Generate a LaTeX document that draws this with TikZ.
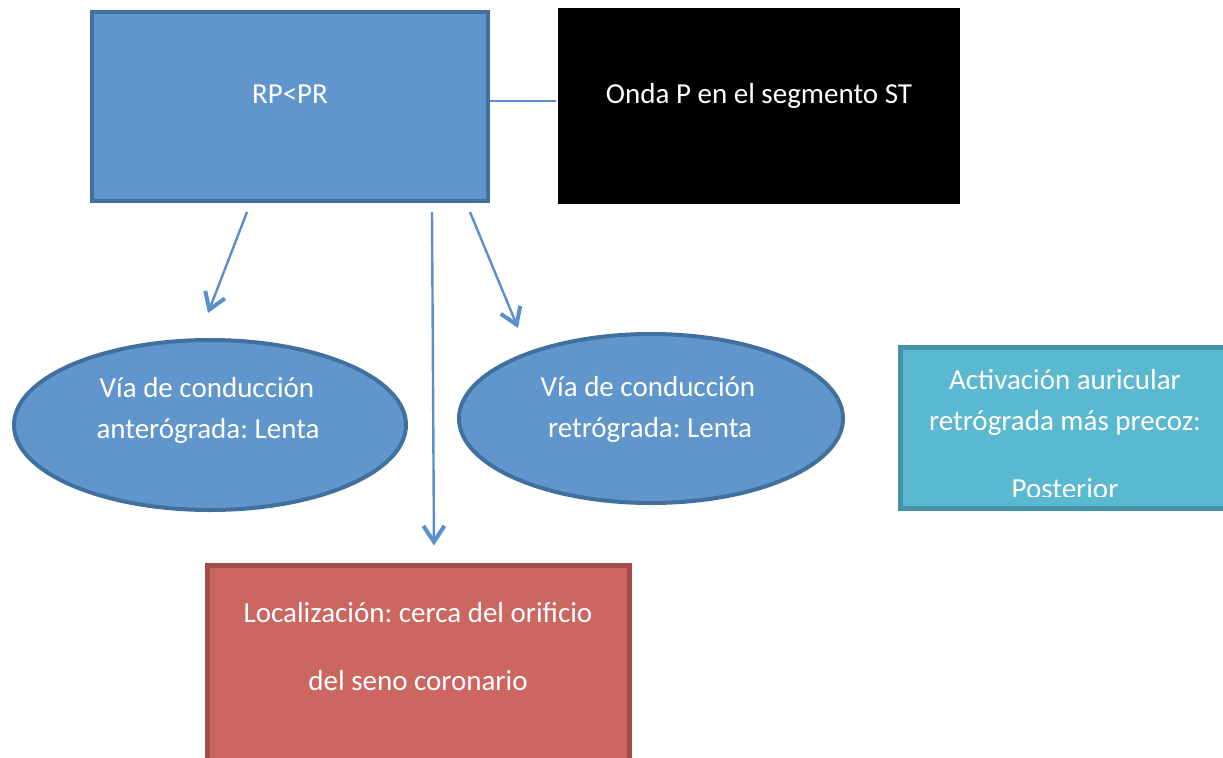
\documentclass[tikz,border=0pt]{standalone}
\usepackage{fontspec}
\setmainfont{Carlito}
\usetikzlibrary{arrows.meta,calc,shapes.geometric}
\definecolor{bluefill}{HTML}{6096CB}
\definecolor{blueline}{HTML}{41709F}
\definecolor{arrowc}{HTML}{5A8FCB}
\definecolor{cyanfill}{HTML}{5BB8D1}
\definecolor{cyanline}{HTML}{4693A8}
\definecolor{redfill}{HTML}{CC6660}
\definecolor{redline}{HTML}{A24D49}
\frenchspacing
\tikzset{
  box/.style={rectangle, inner sep=0pt, line width=2pt},
  bluebox/.style={box, fill=bluefill, draw=blueline},
  oval/.style={ellipse, inner sep=0pt, line width=2pt, fill=bluefill, draw=blueline},
  txt/.style={text=white, anchor=base, inner sep=0pt, font=\fontsize{14.5}{17}\selectfont},
  arr/.style={draw=arrowc, line width=1.2pt, -{Straight Barb[length=8pt,width=10.5pt,line width=2pt]}},
  link/.style={draw=arrowc, line width=0.9pt}
}
\begin{document}
\begin{tikzpicture}[x=0.5pt,y=-0.5pt]
\useasboundingbox (0,0) rectangle (1223,757);
\clip (0,0) rectangle (1223,757);
\fill[white] (0,0) rectangle (1223,757);
% shapes
\node[bluebox, minimum width=198pt, minimum height=94.5pt] (rp) at (290,106.5) {};
\node[box, fill=black, minimum width=201pt, minimum height=98pt] (onda) at (759,106) {};
\node[oval, minimum width=196pt, minimum height=85pt] (e1) at (210,425) {};
\node[oval, minimum width=192pt, minimum height=84.5pt] (e2) at (651,418.5) {};
\node[box, fill=cyanfill, minimum width=164pt, minimum height=78.5pt] (act) at (1066,428) {};
\node[box, fill=redfill, draw=redline, line width=2.5pt, minimum width=211pt, minimum height=117pt] (loc) at (418.5,682) {};
% texts
\node[txt] (t1) at (290,103) {RP<PR};
\node[txt] (t2) at (759,103) {Onda P en el segmento ST};
\node[txt] (t3) at (207,397) {Vía de conducción};
\node[txt] (t4) at (208,438) {anterógrada: Lenta};
\node[txt] (t5) at (648,396) {Vía de conducción};
\node[txt] (t6) at (650,437) {retrógrada: Lenta};
\begin{scope}
\clip (901,349) rectangle (1230,496);
\node[txt] (t7) at (1065,389) {Activación auricular};
\node[txt] (t8) at (1065,430) {retrógrada más precoz:};
\node[txt] (t9) at (1065,498) {Posterior};
\end{scope}
\draw[cyanline, line width=2.5pt] (act.south east) rectangle (act.north west);
\node[txt] (t10) at (418,622) {Localización: cerca del orificio};
\node[txt] (t11) at (418,690) {del seno coronario};
% connectors
\draw[link] (rp.east |- 0,101) -- (onda.west |- 0,101);
\draw[arr] ($(rp.south west)+(157,9)$) -- ($(e1.north)+(-2,-25)$);
\draw[arr] ($(rp.south west)+(342,9)$) -- ($(loc.north)+(15.5,-17)$);
\draw[arr] ($(rp.south west)+(380,9)$) -- ($(e2.north)+(-133,-4)$);
\end{tikzpicture}
\end{document}
